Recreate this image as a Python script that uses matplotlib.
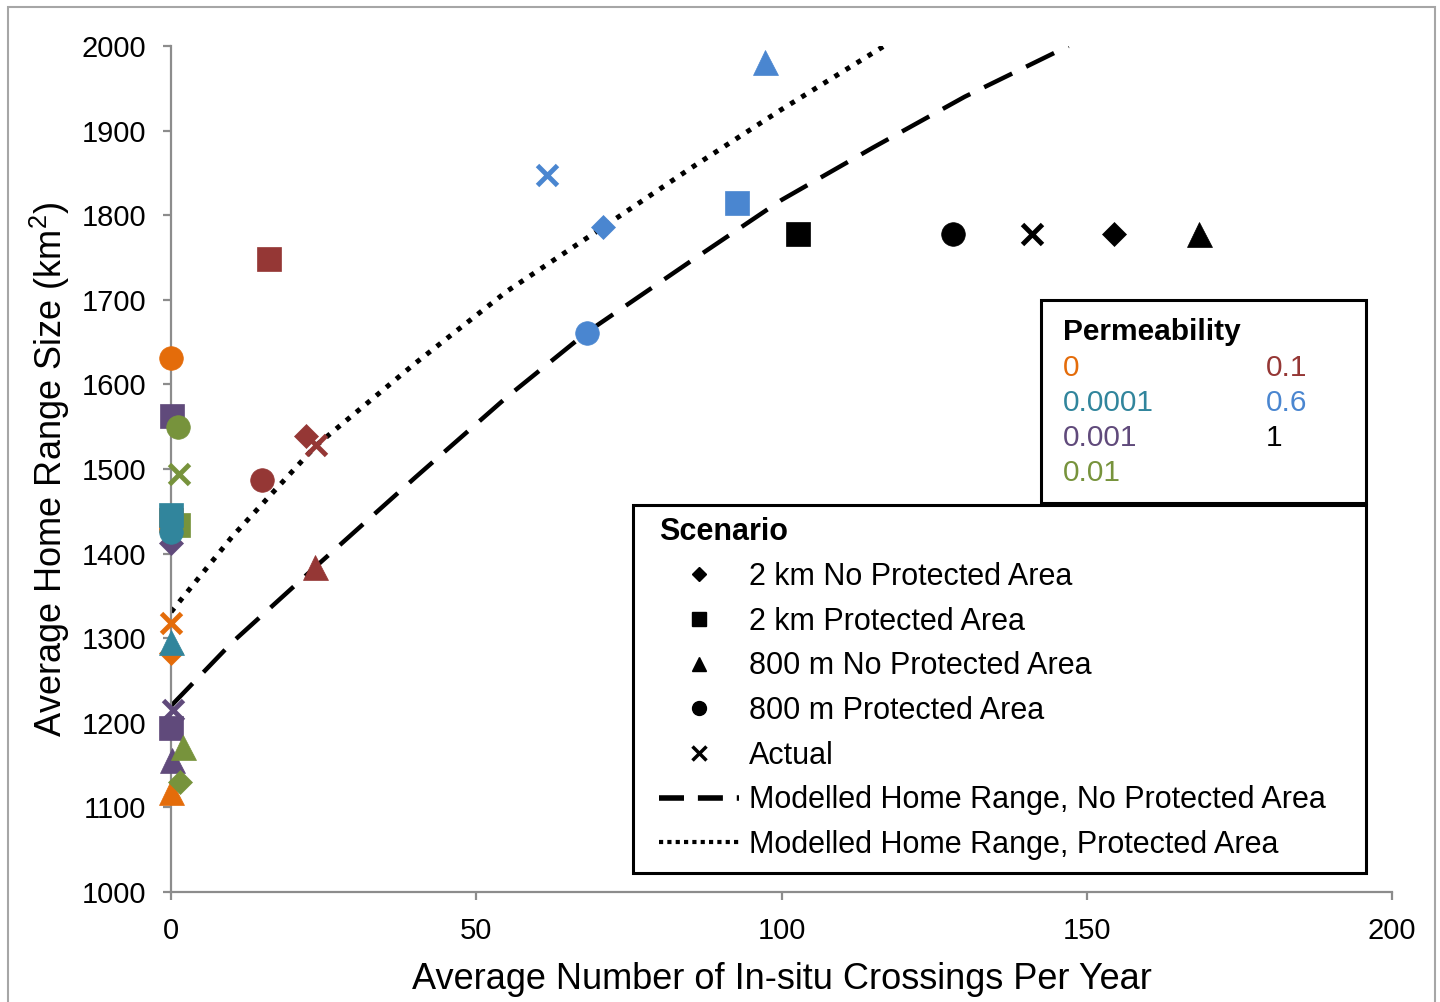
import matplotlib
matplotlib.use('Agg')
import matplotlib.pyplot as plt
from matplotlib.lines import Line2D
from matplotlib.patches import Rectangle

plt.rcParams['font.family'] = ['Liberation Sans', 'DejaVu Sans']
plt.rcParams['mathtext.fontset'] = 'custom'
plt.rcParams['mathtext.rm'] = 'Liberation Sans'

# permeability levels and their colours
PERM_LABELS = ["0", "0.0001", "0.001", "0.01", "0.1", "0.6", "1"]
PERM_COLORS = ["#E46C0A", "#31859C", "#604A7B", "#77933C", "#953735", "#4A86D0", "#000000"]
# drawing order of the permeability groups (later = on top)
DRAW_RANK = [0, 3, 1, 2, 4, 5, 6]

# scenario markers (D = 2 km no PA, s = 2 km PA, ^ = 800 m no PA, o = 800 m PA, x = actual)
perm_idx = [0, 0, 0, 0, 0,
            1, 1, 1,
            2, 2, 2, 2, 2, 2,
            3, 3, 3, 3, 3,
            4, 4, 4, 4, 4,
            5, 5, 5, 5, 5,
            6, 6, 6, 6, 6]
markers = ["s", "o", "x", "D", "^",
           "s", "o", "^",
           "s", "o", "D", "x", "s", "^",
           "s", "o", "x", "^", "D",
           "s", "D", "x", "o", "^",
           "^", "x", "D", "s", "o",
           "s", "o", "x", "D", "^"]
crossings = [0.0, 0.0, 0.0, 0.0, 0.0,
             0.0, 0.0, 0.0,
             0.1, 0.1, 0.0, 0.3, 0.0, 0.2,
             1.2, 1.2, 1.3, 2.0, 1.5,
             16.1, 22.1, 23.8, 14.9, 23.6,
             97.3, 61.6, 70.8, 92.7, 68.1,
             102.7, 128.1, 141.0, 154.5, 168.4]
home_range = [1440, 1631, 1318, 1283, 1118,
              1446, 1425, 1296,
              1563, 1436, 1412, 1215, 1194, 1156,
              1434, 1550, 1494, 1171, 1130,
              1748, 1539, 1528, 1487, 1384,
              1981, 1847, 1786, 1814, 1661,
              1778, 1778, 1778, 1778, 1778]

# modelled home range curves
model_nopa_x = [0, 10, 23.6, 40, 55, 68, 85, 100, 115, 130, 147]
model_nopa_y = [1220, 1295, 1384, 1490, 1585, 1661, 1745, 1818, 1880, 1940, 2000]
model_pa_x = [0, 10, 23.8, 40, 55, 70.8, 85, 100, 116.8]
model_pa_y = [1331, 1420, 1528, 1625, 1710, 1786, 1855, 1925, 2000]

SCENARIOS = [("D", "2 km No Protected Area"),
             ("s", "2 km Protected Area"),
             ("^", "800 m No Protected Area"),
             ("o", "800 m Protected Area"),
             ("x", "Actual")]

MSIZE = {"s": 17, "o": 17, "^": 18, "D": 12, "x": 15}

fig = plt.figure(figsize=(14.4, 10.02), dpi=100)
ax = fig.add_axes([0.1188, 0.1098, 0.8479, 0.8443])

ax.plot(model_nopa_x, model_nopa_y, color='black', lw=3.2, dashes=(7, 3.5), zorder=2)
ax.plot(model_pa_x, model_pa_y, color='black', lw=3.6, linestyle=(0, (1, 1.6)), zorder=2)

for k, (i, m, x, y) in enumerate(zip(perm_idx, markers, crossings, home_range)):
    c = PERM_COLORS[i]
    z = 3 + DRAW_RANK[i] * 0.1 + k * 0.001
    if m == "x":
        ax.plot(x, y, marker="x", ms=MSIZE[m], mew=3.5, color=c, ls='none',
                zorder=z, clip_on=False)
    else:
        ax.plot(x, y, marker=m, ms=MSIZE[m], color=c, mec=c, mew=0.5, ls='none',
                zorder=z, clip_on=False)

ax.set_xlim(0, 200)
ax.set_ylim(1000, 2000)
ax.set_xticks(range(0, 201, 50))
ax.set_yticks(range(1000, 2001, 100))
for side in ['top', 'right']:
    ax.spines[side].set_visible(False)
for side in ['left', 'bottom']:
    ax.spines[side].set_color('#8c8c8c')
    ax.spines[side].set_linewidth(1.6)
ax.tick_params(direction='out', length=6, width=1.6, color='#8c8c8c', labelsize=21, pad=12)
ax.set_xlabel("Average Number of In-situ Crossings Per Year", fontsize=26, labelpad=12)
ax.set_ylabel("Average Home Range Size (km$^2$)", fontsize=26, labelpad=7)

# legend boxes drawn as plain rectangles in axes coordinates
box_kw = dict(transform=ax.transAxes, fill=True, facecolor='white',
              edgecolor='black', lw=2.2, clip_on=False, zorder=6)
ax.add_patch(Rectangle((0.378, 0.0225), 0.601, 0.4349, **box_kw))
ax.add_patch(Rectangle((0.7125, 0.4598), 0.2665, 0.24, **box_kw))

# scenario legend
handles = [Line2D([], [], marker=m, ls='none', color='black', ms=10 if m != "D" else 7,
                  mew=2.5 if m == "x" else 1) for m, _ in SCENARIOS]
handles.append(Line2D([], [], color='black', lw=4, dashes=(4.5, 2.5)))
handles.append(Line2D([], [], color='black', lw=3, linestyle=(0, (1, 1))))
labels = [lab for _, lab in SCENARIOS] + ["Modelled Home Range, No Protected Area",
                                          "Modelled Home Range, Protected Area"]
leg1 = ax.legend(handles, labels, title="Scenario", loc='upper left',
                 bbox_to_anchor=(0.3997, 0.443), frameon=False, borderpad=0,
                 borderaxespad=0, fontsize=22,
                 title_fontproperties={'weight': 'bold', 'size': 22},
                 alignment='left', handlelength=2.6, handletextpad=0.35,
                 labelspacing=0.48)
leg1.set_zorder(7)
ax.add_artist(leg1)

# permeability legend (coloured text only)
perm_handles = [Line2D([], [], ls='none') for _ in PERM_LABELS]
leg2 = ax.legend(perm_handles, PERM_LABELS, title="Permeability", loc='upper left',
                 bbox_to_anchor=(0.7305, 0.678), ncol=2, frameon=False,
                 borderpad=0, borderaxespad=0, fontsize=21.5,
                 title_fontproperties={'weight': 'bold', 'size': 21.5},
                 alignment='left', handlelength=0, handletextpad=0,
                 columnspacing=3.75, labelspacing=0.24, labelcolor=PERM_COLORS)
leg2.set_zorder(7)

# light grey frame around the figure
fig.patches.append(Rectangle((8 / 1440, -0.02), 1427 / 1440, 1.02 - 7 / 1002,
                             transform=fig.transFigure, fill=False,
                             edgecolor='#a6a6a6', lw=1.5))

fig.savefig("out.png", dpi=100, facecolor='white')
